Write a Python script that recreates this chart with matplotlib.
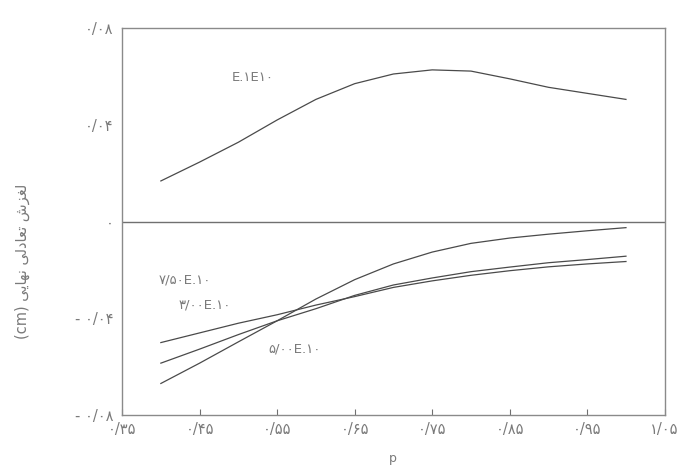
import numpy as np
import matplotlib.pyplot as plt

# p values along the horizontal axis
p = [0.40, 0.45, 0.50, 0.55, 0.60, 0.65, 0.70, 0.75, 0.80, 0.85, 0.90, 0.95, 1.00]

# upper curve
top = [0.0168, 0.0246, 0.0328, 0.0420, 0.0505, 0.0570, 0.0610, 0.0627, 0.0622, 0.0590, 0.0555, 0.0530, 0.0505]

# lower curves
c_75 = [-0.0500, -0.0460, -0.0420, -0.0385, -0.0345, -0.0310, -0.0272, -0.0245, -0.0222, -0.0203, -0.0187, -0.0175, -0.0165]
c_30 = [-0.0585, -0.0527, -0.0467, -0.0410, -0.0360, -0.0305, -0.0262, -0.0233, -0.0207, -0.0188, -0.0170, -0.0157, -0.0143]
c_50 = [-0.0669, -0.0585, -0.0497, -0.0410, -0.0320, -0.0240, -0.0175, -0.0126, -0.0090, -0.0068, -0.0052, -0.0038, -0.0025]

xticks = [0.35, 0.45, 0.55, 0.65, 0.75, 0.85, 0.95, 1.05]
xlabels = ['۰/۳۵', '۰/۴۵', '۰/۵۵', '۰/۶۵', '۰/۷۵', '۰/۸۵', '۰/۹۵', '۱/۰۵']
yticks = [-0.08, -0.04, 0.0, 0.04, 0.08]
ylabels = ['- ۰/۰۸', '- ۰/۰۴', '۰', '۰/۰۴', '۰/۰۸']

# Persian axis title written in presentation forms, visual order
ytitle = ('(cm) '
          '\uFEF0\uFEF3\uFE8E\uFEEC\uFEE7 '
          '\uFEF0\uFEDF\uFEA9\uFE8E\uFECC\uFE97 '
          '\uFEB5\uFEB0\uFED0\uFEDF')

line_col = '#4a4a4a'
text_col = '#7a7a7a'

fig = plt.figure(figsize=(6.86, 4.67), dpi=100)
ax = fig.add_axes([0.178, 0.111, 0.791, 0.829])

ax.plot(p, top, color=line_col, lw=0.9)
ax.plot(p, c_75, color=line_col, lw=0.9)
ax.plot(p, c_30, color=line_col, lw=0.9)
ax.plot(p, c_50, color=line_col, lw=0.9)
ax.axhline(0, color='#707070', lw=1.0)

ax.text(0.519, 0.0594, 'E.۱E۱۰', color=text_col, fontsize=9.5, ha='center', va='center')
ax.text(0.431, -0.024, '۷/۵۰E.۱۰', color=text_col, fontsize=9.5, ha='center', va='center')
ax.text(0.457, -0.0345, '۳/۰۰E.۱۰', color=text_col, fontsize=9.5, ha='center', va='center')
ax.text(0.573, -0.0526, '۵/۰۰E.۱۰', color=text_col, fontsize=9.5, ha='center', va='center')

ax.set_xlim(0.35, 1.05)
ax.set_ylim(-0.08, 0.08)
ax.set_xticks(xticks)
ax.set_xticklabels(xlabels, color=text_col, fontsize=10.5)
ax.set_yticks(yticks)
ax.set_yticklabels(ylabels, color=text_col, fontsize=10.5)
ax.tick_params(axis='x', direction='in', length=4, color='#707070', pad=5)
ax.tick_params(axis='y', length=0, pad=6)
for s in ax.spines.values():
    s.set_color('#8a8a8a')
    s.set_linewidth(1.0)

fig.text(22 / 686, 1 - 261 / 467, ytitle, rotation=90, color=text_col,
         fontsize=10.5, ha='center', va='center')
fig.text(393 / 686, 0.004, 'p', color=text_col, fontsize=9, ha='center', va='bottom')

fig.savefig('out.png', dpi=100)
